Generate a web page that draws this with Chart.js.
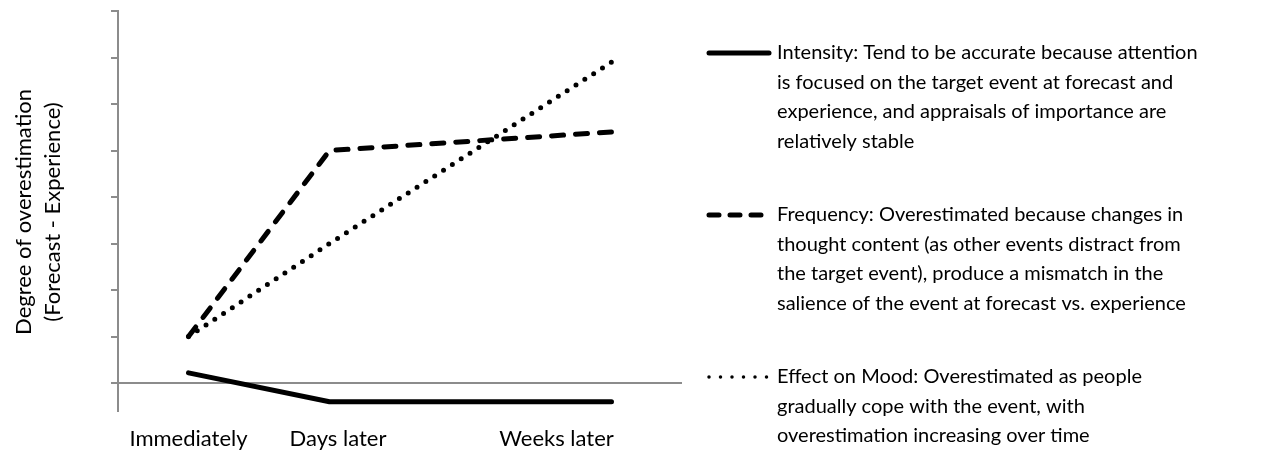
<!DOCTYPE html>
<html>
<head>
<meta charset="utf-8">
<script src="https://cdn.jsdelivr.net/npm/chart.js@4/dist/chart.umd.min.js"></script>
<style>
  html, body { margin: 0; padding: 0; background: #fff; }
  #wrap { position: relative; width: 1274px; height: 450px; }
</style>
</head>
<body>
<div id="wrap"><canvas id="myChart"></canvas></div>
<script>
const categories = ["Immediately", "Days later", "Weeks later"];
const timeValues = [1, 2, 4];
const yTicks = [0, 1, 2, 3, 4, 5, 6, 7, 8];
const yTitle = ["Degree of overestimation", "(Forecast - Experience)"];

const intensity = [0.22, -0.4, -0.4];
const frequency = [1, 5, 5.4];
const mood = [1, 3, 6.9];

const descriptions = [
  ["Intensity: Tend to be accurate because attention",
   "is focused on the target event at forecast and",
   "experience, and appraisals of importance are",
   "relatively stable"],
  ["Frequency: Overestimated because changes in",
   "thought content (as other events distract from",
   "the target event), produce a mismatch in the",
   "salience of the event at forecast vs. experience"],
  ["Effect on Mood: Overestimated as people",
   "gradually cope with the event, with",
   "overestimation increasing over time"]
];

const axisGray = "#8c8c8c";
const fontFamily = "Lato, 'Open Sans', sans-serif";

const toPoints = values => values.map((v, i) => ({ x: timeValues[i], y: v }));

// legend on the right, drawn next to the plot with the same line styles
const sideLegend = {
  id: "sideLegend",
  afterDraw(chart) {
    const ctx = chart.ctx;
    const blockTops = [53, 215, 377];
    const lineGap = 29.5;
    ctx.save();
    ctx.font = "20px " + fontFamily;
    ctx.fillStyle = "#000";
    ctx.textBaseline = "middle";
    chart.data.datasets.forEach((ds, i) => {
      const y = blockTops[i];
      ctx.beginPath();
      ctx.strokeStyle = "#000";
      ctx.lineWidth = ds.legendWidth;
      ctx.lineCap = "round";
      ctx.setLineDash(ds.legendDash);
      ctx.moveTo(709, y);
      ctx.lineTo(769, y);
      ctx.stroke();
      ctx.setLineDash([]);
      descriptions[i].forEach((line, j) => {
        ctx.fillText(line, 777, y + j * lineGap);
      });
    });
    ctx.restore();
  }
};

// two-line rotated y title
const yTitlePlugin = {
  id: "yTitlePlugin",
  afterDraw(chart) {
    const ctx = chart.ctx;
    ctx.save();
    ctx.font = "22px " + fontFamily;
    ctx.fillStyle = "#000";
    ctx.textAlign = "center";
    ctx.textBaseline = "middle";
    ctx.translate(0, 212);
    ctx.rotate(-Math.PI / 2);
    yTitle.forEach((line, i) => ctx.fillText(line, 0, 24 + i * 29));
    ctx.restore();
  }
};

const ctx = document.getElementById("myChart").getContext("2d");
const myChart = new Chart(ctx, {
  type: "line",
  data: {
    datasets: [
      {
        label: "Intensity",
        data: toPoints(intensity),
        borderColor: "#000",
        borderWidth: 5,
        borderCapStyle: "round",
        borderJoinStyle: "round",
        pointRadius: 0,
        legendWidth: 5,
        legendDash: []
      },
      {
        label: "Frequency",
        data: toPoints(frequency),
        borderColor: "#000",
        borderWidth: 5,
        borderDash: [12, 12],
        borderCapStyle: "round",
        borderJoinStyle: "round",
        pointRadius: 0,
        legendWidth: 5,
        legendDash: [10, 11]
      },
      {
        label: "Effect on Mood",
        data: toPoints(mood),
        borderColor: "#000",
        borderWidth: 5,
        borderDash: [0, 10.5],
        borderCapStyle: "round",
        borderJoinStyle: "round",
        pointRadius: 0,
        legendWidth: 3.5,
        legendDash: [0, 11.5]
      }
    ]
  },
  options: {
    responsive: true,
    maintainAspectRatio: false,
    animation: false,
    layout: { padding: { top: 11, left: 6, right: 592, bottom: 0 } },
    plugins: {
      legend: { display: false },
      tooltip: { enabled: false }
    },
    scales: {
      x: {
        type: "linear",
        min: 0.5,
        max: 4.5,
        afterBuildTicks: scale => {
          scale.ticks = [1, 2.06, 3.61].map(v => ({ value: v }));
        },
        afterFit: scale => { scale.height = 39; },
        ticks: {
          autoSkip: false,
          maxRotation: 0,
          padding: 15,
          color: "#000",
          font: { family: fontFamily, size: 22 },
          callback: (value, index) => categories[index]
        },
        grid: { display: false, drawTicks: false },
        border: { display: false }
      },
      y: {
        min: -0.6,
        max: 8,
        afterBuildTicks: scale => {
          scale.ticks = yTicks.map(v => ({ value: v }));
        },
        afterFit: scale => { scale.width = 112; },
        ticks: { display: false },
        grid: {
          color: c => (c.tick && c.tick.value === 0 ? axisGray : "rgba(0,0,0,0)"),
          tickColor: axisGray,
          tickLength: 7,
          lineWidth: 2
        },
        border: { display: true, color: axisGray, width: 2 }
      }
    }
  },
  plugins: [sideLegend, yTitlePlugin]
});
</script>
</body>
</html>
